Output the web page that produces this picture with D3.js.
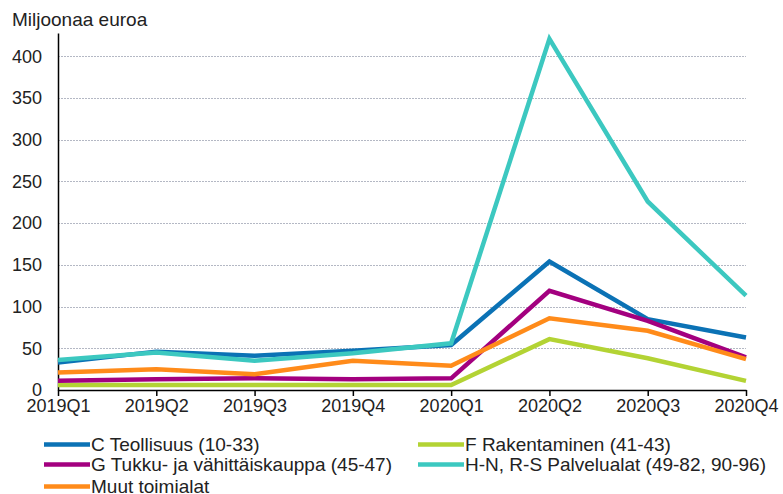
<!DOCTYPE html>
<html>
<head>
<meta charset="utf-8">
<script src="https://cdn.jsdelivr.net/npm/d3@7"></script>
<style>
  body { margin: 0; background: #fff; }
  svg text { font-family: Arial, "Liberation Sans", sans-serif; fill: #222; }
</style>
</head>
<body>
<div id="chart"></div>
<script>
var quarters = ["2019Q1", "2019Q2", "2019Q3", "2019Q4", "2020Q1", "2020Q2", "2020Q3", "2020Q4"];

var teollisuus   = [33, 46, 41, 47, 54, 154, 85, 63];
var rakentaminen = [6, 6, 6, 6, 6, 61, 38, 11];
var kauppa       = [11, 13, 14, 13, 14, 119, 83, 39];
var palvelut     = [36, 45, 35, 44, 56, 421, 226, 113];
var muut         = [21, 25, 19, 35, 29, 86, 71, 37];

var yTicks = [0, 50, 100, 150, 200, 250, 300, 350, 400];

var series = [
  { name: "C Teollisuus (10-33)", values: teollisuus, color: "#0b72b5" },
  { name: "F Rakentaminen (41-43)", values: rakentaminen, color: "#b3d334" },
  { name: "G Tukku- ja vähittäiskauppa (45-47)", values: kauppa, color: "#a3007f" },
  { name: "H-N, R-S Palvelualat (49-82, 90-96)", values: palvelut, color: "#3cc8c0" },
  { name: "Muut toimialat", values: muut, color: "#ff8b1a" }
];

var W = 783, H = 494;
var margin = { top: 33, left: 58, right: 37, bottom: 104 };
var width = W - margin.left - margin.right,
    height = H - margin.top - margin.bottom;

var svg = d3.select("#chart").append("svg")
    .attr("width", W)
    .attr("height", H);

var g = svg.append("g")
    .attr("transform", "translate(" + margin.left + "," + margin.top + ")");

var x = d3.scalePoint()
    .domain(quarters)
    .range([0, width]);

var y = d3.scaleLinear()
    .domain([0, 428])
    .range([height, 0]);

// gridlines
g.selectAll(".grid")
  .data(yTicks.filter(function(d) { return d > 0; }))
  .enter().append("line")
    .attr("class", "grid")
    .attr("x1", 0)
    .attr("x2", width)
    .attr("y1", function(d) { return Math.round(y(d)) + 0.5; })
    .attr("y2", function(d) { return Math.round(y(d)) + 0.5; })
    .attr("stroke", "#b4b8c4")
    .attr("stroke-dasharray", "2,1");

// y axis
var yAxis = g.append("g")
    .call(d3.axisLeft(y).tickValues(yTicks).tickSize(0).tickPadding(16));
yAxis.select(".domain").attr("stroke", "#000").attr("stroke-width", 1.5);
yAxis.selectAll("text").style("font-size", "18px").attr("fill", "#222");

// lines
var line = d3.line()
    .x(function(d, i) { return x(quarters[i]); })
    .y(function(d) { return y(d); });

g.selectAll(".series")
  .data(series)
  .enter().append("path")
    .attr("class", "series")
    .attr("d", function(d) { return line(d.values); })
    .attr("fill", "none")
    .attr("stroke", function(d) { return d.color; })
    .attr("stroke-width", 4.5)
    .attr("stroke-linejoin", "miter");

// x axis
var xAxis = g.append("g")
    .attr("transform", "translate(0," + height + ")")
    .call(d3.axisBottom(x).tickSize(6).tickSizeOuter(0).tickPadding(3));
xAxis.select(".domain").attr("stroke", "#000").attr("stroke-width", 1.5);
xAxis.selectAll(".tick line").attr("stroke", "#000").attr("stroke-width", 1.5);
xAxis.selectAll("text").style("font-size", "18px").attr("fill", "#222");

// title
svg.append("text")
    .attr("x", 12)
    .attr("y", 26)
    .style("font-size", "19px")
    .text("Miljoonaa euroa");

// legend: two columns, last entry alone on the third row
var legendPos = [
  { x: 44, y: 444.5 }, { x: 418, y: 444.5 },
  { x: 44, y: 464.5 }, { x: 418, y: 464.5 },
  { x: 44, y: 486.5 }
];

var legend = svg.append("g").attr("class", "legend")
  .selectAll("g")
  .data(series)
  .enter().append("g")
    .attr("transform", function(d, i) { return "translate(" + legendPos[i].x + "," + legendPos[i].y + ")"; });

legend.append("line")
    .attr("x1", 0).attr("x2", 46)
    .attr("y1", 0).attr("y2", 0)
    .attr("stroke", function(d) { return d.color; })
    .attr("stroke-width", 4.5);

legend.append("text")
    .attr("x", 47)
    .attr("y", 6.5)
    .style("font-size", "19px")
    .text(function(d) { return d.name; });
</script>
</body>
</html>
